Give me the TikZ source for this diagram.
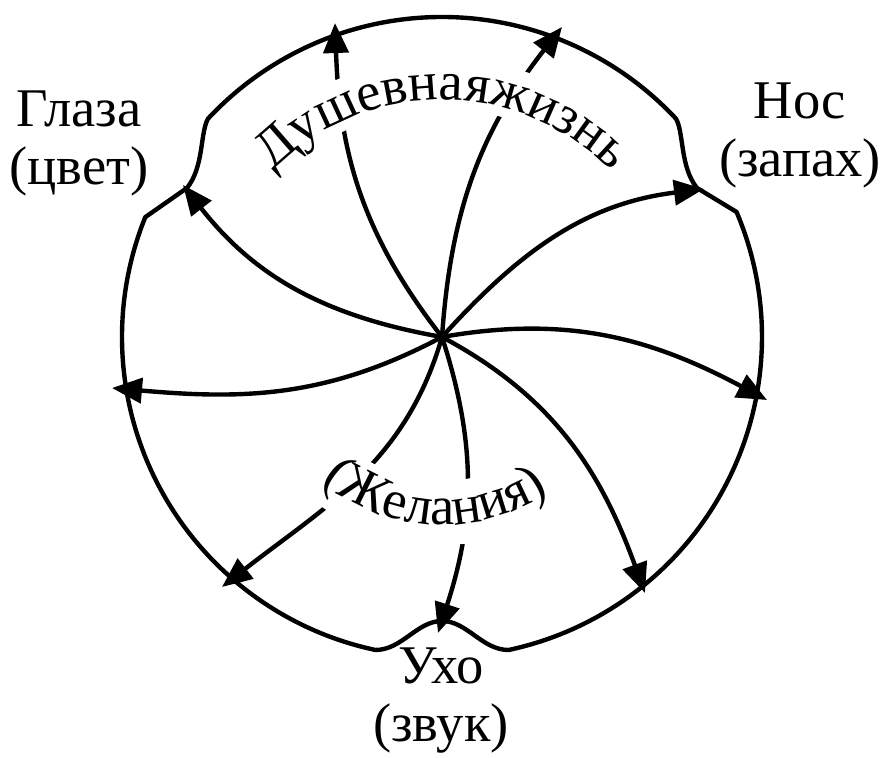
\documentclass[tikz,border=0pt]{standalone}
\usepackage{fontspec}
\setmainfont{Liberation Serif}
\newfontfamily\ruserif{Liberation Serif}
\usetikzlibrary{arrows.meta,decorations.text}

\begin{document}
\begin{tikzpicture}[x=0.01cm, y=0.01cm,
  rim/.style={line width=1.25pt, line join=round},
  ray/.style={line width=1.25pt, -{Triangle[length=0.3cm, width=0.25cm]}},
  sense/.style={align=center, font=\ruserif\fontsize{15.5}{16.5}\selectfont},
  gap/.style={white, line width=#1}
]
\useasboundingbox (-442,-421) rectangle (442,337);
\coordinate (hub) at (0,0);
\coordinate (t1) at (-107,314);
\coordinate (t2) at (120,310);
\coordinate (t3) at (262,148);
\coordinate (t4) at (325,-63);
\coordinate (t5) at (203,-256);
\coordinate (t6) at (-4,-296);
\coordinate (t7) at (-220,-250);
\coordinate (t8) at (-330,-51);
\coordinate (t9) at (-259,152);

\draw[rim] (137:320) arc[start angle=137, end angle=43, radius=320]
  .. controls (242,204) and (238,170) .. (255,149) -- (23:320)
  arc[start angle=23, end angle=-78, radius=320]
  .. controls (40,-313) and (25,-284) .. (0,-284)
  .. controls (-25,-284) and (-40,-313) .. (-102:320)
  arc[start angle=258, end angle=158, radius=320]
  -- (-255,149) .. controls (-238,170) and (-242,204) .. cycle;

\draw[ray] (hub) to[out=128, in=-88] (t1);
\draw[ray] (hub) to[out=86, in=232] (t2);
\draw[ray] (hub) to[out=48, in=187] (t3);
\draw[ray] (hub) to[out=10, in=152] (t4);
\draw[ray] (hub) to[out=-28, in=110] (t5);
\draw[ray] (hub) to[out=-72, in=72] (t6);
\draw[ray] (hub) to[out=-106, in=38] (t7);
\draw[ray] (hub) to[out=-152, in=-5] (t8);
\draw[ray] (hub) to[out=170, in=-52] (t9);

\draw[gap=0.5cm] (125:253) arc[start angle=125, end angle=65, radius=253];
\draw[gap=0.64cm] (228:176) arc[start angle=228, end angle=298, radius=176];

\path[decorate, decoration={text along path, text align=center,
  text={|\ruserif\fontsize{15.5}{18}\selectfont|Душевнаяжизнь}}]
  (150:237) arc[start angle=150, end angle=30, radius=237];
\path[decorate, decoration={text along path, text align=center,
  text={|\ruserif\fontsize{15.5}{18}\selectfont|(Желания)}}]
  (227.5:188) arc[start angle=227.5, end angle=307.5, radius=188];

\node[sense] (eyes) at (-363,194) {Глаза\\(цвет)};
\node[sense] (nose) at (358,202) {Нос\\(запах)};
\node[sense] (ear) at (-1,-364) {Ухо\\(звук)};
\end{tikzpicture}
\end{document}
